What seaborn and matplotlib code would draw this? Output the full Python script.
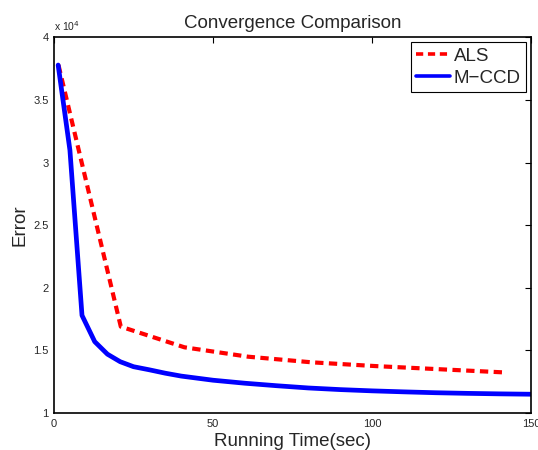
import numpy as np
import pandas as pd
import seaborn as sns
import matplotlib.pyplot as plt
from matplotlib.ticker import FuncFormatter

# ------------------------------- DATA -----------------------------------------
als_time = [1.4, 21, 41, 61, 81, 101, 121, 141]
als_error = [37800, 16900, 15250, 14500, 14050, 13750, 13500, 13250]

mccd_time = [1.3, 5, 8.8, 12.8, 16.8, 20.8, 25, 30, 35, 40, 50, 60, 70, 80,
             90, 100, 110, 120, 130, 140, 150]
mccd_error = [37800, 31000, 17800, 15700, 14700, 14100, 13700, 13450, 13180,
              12950, 12620, 12380, 12180, 12000, 11870, 11770, 11690, 11620,
              11570, 11530, 11500]

x_ticks = [0, 50, 100, 150]
y_ticks = [10000, 15000, 20000, 25000, 30000, 35000, 40000]

# ------------------------------- PLOT -----------------------------------------
sns.set_style('white')
plt.rcParams['font.family'] = ['Liberation Sans', 'DejaVu Sans']

fig = plt.figure(figsize=(5.38, 4.5), dpi=100)
ax = fig.add_axes([0.1004, 0.0822, 0.8866, 0.8345])

sns.lineplot(x=als_time, y=als_error, ax=ax, color='#ff0000', linewidth=3,
             label='ALS')
ax.lines[-1].set_dashes([2.0, 1.3])
sns.lineplot(x=mccd_time, y=mccd_error, ax=ax, color='#0000ff', linewidth=3.4,
             label='M\u2212CCD')

ax.set_xlim(0, 150)
ax.set_ylim(10000, 40000)
ax.set_xticks(x_ticks)
ax.set_yticks(y_ticks)
ax.yaxis.set_major_formatter(FuncFormatter(lambda v, p: f'{v / 1e4:g}'))
ax.tick_params(direction='in', length=4, width=0.8, labelsize=8,
               top=True, right=True, color='black', pad=4)
for s in ax.spines.values():
    s.set_color('black')
    s.set_linewidth(1.2)

ax.text(0.0, 1.012, 'x 10$^4$', transform=ax.transAxes, fontsize=7.5,
        ha='left', va='bottom')

ax.set_title('Convergence Comparison', fontsize=13.5, pad=7)
ax.set_xlabel('Running Time(sec)', fontsize=13.5, labelpad=3)
ax.set_ylabel('Error', fontsize=13.5, labelpad=3)

leg = ax.legend(loc='upper right', fontsize=13.5, handlelength=1.8,
                handletextpad=0.2, borderpad=0.3, labelspacing=0.25,
                borderaxespad=0.25, fancybox=False, framealpha=1)
leg.get_frame().set_edgecolor('black')
leg.get_frame().set_linewidth(0.8)
for h in leg.get_lines():
    h.set_linewidth(2.6)

fig.savefig('out.png', dpi=100)
